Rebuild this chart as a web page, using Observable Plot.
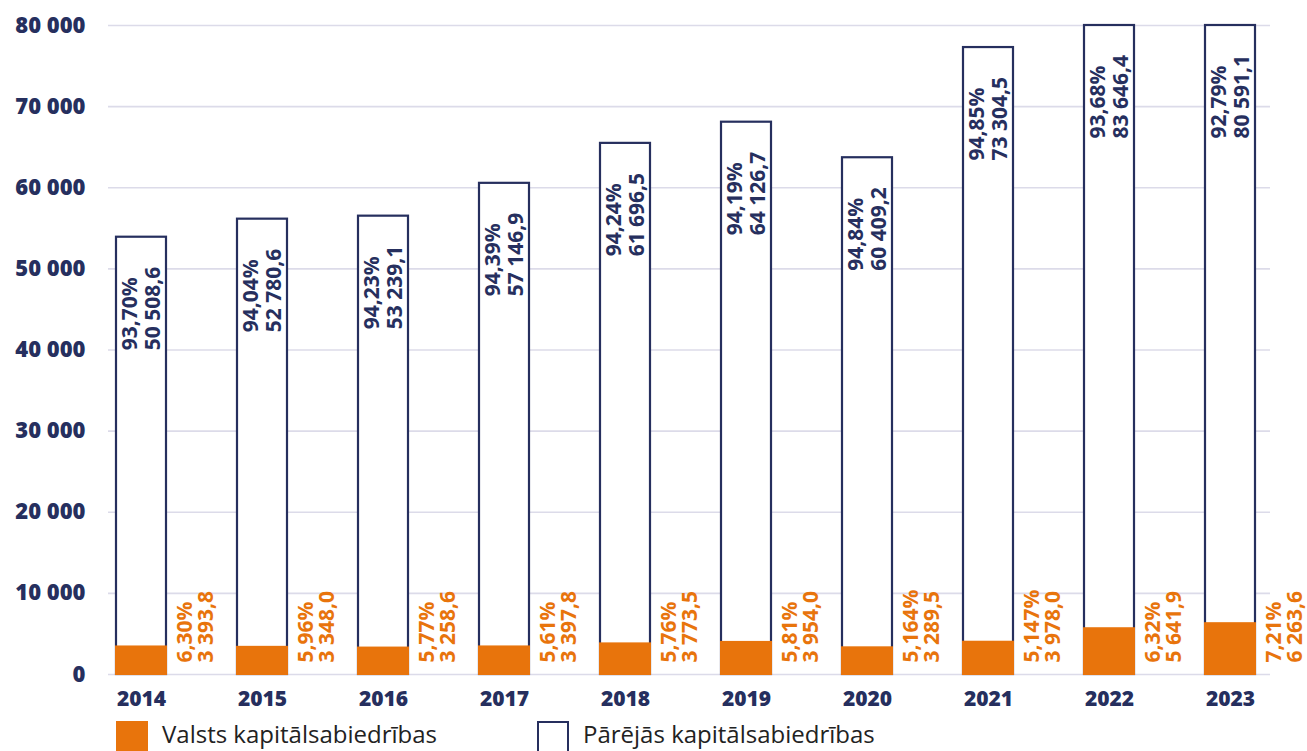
<!DOCTYPE html>
<html>
<head>
<meta charset="utf-8">
<script src="https://cdn.jsdelivr.net/npm/d3@7"></script>
<script src="https://cdn.jsdelivr.net/npm/@observablehq/plot@0.6"></script>
<style>
  html, body { margin: 0; padding: 0; background: #fff; }
  #wrap { position: relative; width: 1307px; height: 751px; overflow: hidden; }
  .leg { position: absolute; top: 721px; display: flex; align-items: flex-start; }
  .sw { width: 32px; height: 30px; box-sizing: border-box; }
  .lt { font-family: "Open Sans", sans-serif; font-size: 24px; line-height: 24px; color: #222; margin-left: 14px; margin-top: 1px; white-space: nowrap; }
</style>
</head>
<body>
<div id="wrap"></div>
<script>
const years = ["2014","2015","2016","2017","2018","2019","2020","2021","2022","2023"];
const stateValues = [3393.8, 3348.0, 3258.6, 3397.8, 3773.5, 3954.0, 3289.5, 3978.0, 5641.9, 6263.6];
const statePct = ["6,30%","5,96%","5,77%","5,61%","5,76%","5,81%","5,164%","5,147%","6,32%","7,21%"];
const otherValues = [50508.6, 52780.6, 53239.1, 57146.9, 61696.5, 64126.7, 60409.2, 73304.5, 83646.4, 80591.1];
const otherPct = ["93,70%","94,04%","94,23%","94,39%","94,24%","94,19%","94,84%","94,85%","93,68%","92,79%"];
const yTicks = [0, 10000, 20000, 30000, 40000, 50000, 60000, 70000, 80000];
const seriesNames = ["Valsts kapitālsabiedrības", "Pārējās kapitālsabiedrības"];

const NAVY = "#262f5e";
const ORANGE = "#e8740c";
const GRID = "#dcdbe9";

const loc = d3.formatLocale({decimal: ",", thousands: "\u00a0", grouping: [3], currency: ["", ""]});
const fmt1 = loc.format(",.1f");
const fmt0 = loc.format(",d");

const data = years.map((y, i) => ({
  year: y,
  state: stateValues[i],
  other: otherValues[i],
  total: stateValues[i] + otherValues[i],
  stateLabel: statePct[i] + "\n" + fmt1(stateValues[i]),
  otherLabel: otherPct[i] + "\n" + fmt1(otherValues[i])
}));

const chart = Plot.plot({
  width: 1307,
  height: 718,
  marginLeft: 108,
  marginRight: 37,
  marginTop: 25,
  marginBottom: 44,
  style: {fontFamily: "'Open Sans', sans-serif", background: "transparent", overflow: "visible"},
  x: {type: "band", domain: years, paddingInner: 0.585, paddingOuter: 0.072, align: 0.37, label: null},
  y: {domain: [0, 80000], clamp: true, label: null},
  marks: [
    Plot.gridY(yTicks, {stroke: GRID, strokeOpacity: 1, strokeWidth: 1.6}),
    Plot.axisY(yTicks, {tickSize: 0, tickPadding: 23, tickFormat: fmt0, fontSize: 22, fontWeight: 800, fill: NAVY, label: null}),
    Plot.axisX({tickSize: 0, tickPadding: 17, fontSize: 21, fontWeight: 800, fill: NAVY, label: null}),
    Plot.barY(data, {x: "year", y1: 0, y2: "total", fill: "white", stroke: NAVY, strokeWidth: 2.2}),
    Plot.barY(data, {x: "year", y1: 0, y2: "state", fill: ORANGE, stroke: ORANGE, strokeWidth: 2}),
    Plot.text(data, {x: "year", y: "total", text: "otherLabel", rotate: -90, textAnchor: "start", lineAnchor: "middle", lineHeight: 1.07, dy: 113, fontSize: 21, fontWeight: 700, fill: NAVY}),
    Plot.text(data, {x: "year", y: 0, text: "stateLabel", rotate: -90, textAnchor: "start", lineAnchor: "middle", lineHeight: 1.0, dx: 54, dy: -12, fontSize: 21, fontWeight: 700, fill: ORANGE})
  ]
});

const wrap = document.getElementById("wrap");
wrap.appendChild(chart);

const leg1 = document.createElement("div");
leg1.className = "leg";
leg1.style.left = "116px";
leg1.innerHTML = `<div class="sw" style="background:${ORANGE}"></div><div class="lt">${seriesNames[0]}</div>`;
wrap.appendChild(leg1);

const leg2 = document.createElement("div");
leg2.className = "leg";
leg2.style.left = "537px";
leg2.innerHTML = `<div class="sw" style="border:2px solid ${NAVY};border-bottom:none;background:#fff"></div><div class="lt">${seriesNames[1]}</div>`;
wrap.appendChild(leg2);
</script>
</body>
</html>
